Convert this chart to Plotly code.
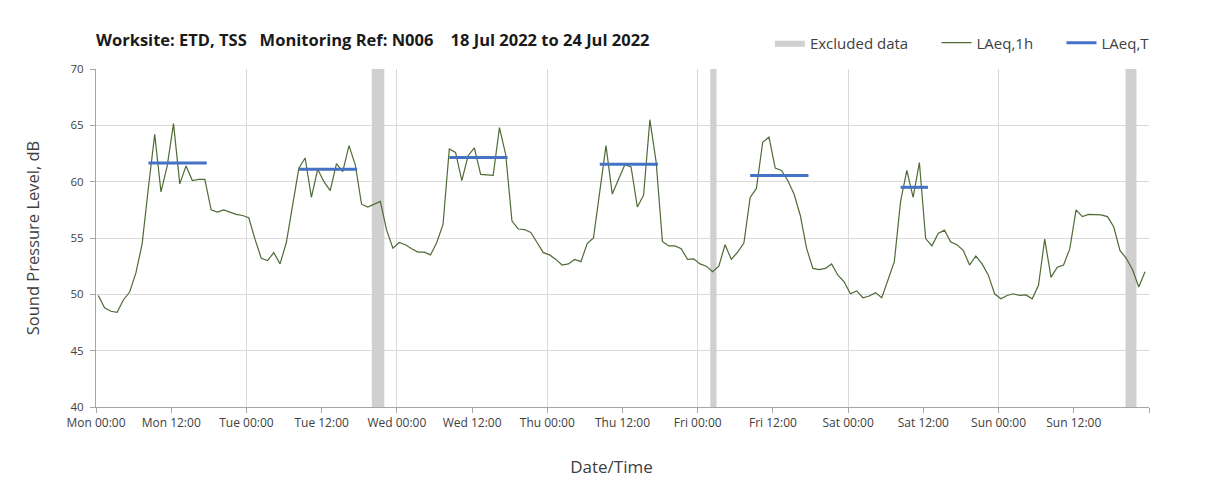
import plotly.graph_objects as go
import pandas as pd

# ---------------- data ----------------
first_reading = "2022-07-18 00:22"
laeq_1h = [
    49.9, 48.8, 48.5, 48.4, 49.5, 50.2, 51.9, 54.5, 59.5, 64.2,
    59.1, 61.4, 65.15, 59.8, 61.4, 60.1, 60.2, 60.2, 57.5, 57.3,
    57.5, 57.3, 57.1, 57.0, 56.8, 54.9, 53.2, 53.0, 53.7, 52.7,
    54.6, 57.9, 61.2, 62.1, 58.6, 61.1, 60.0, 59.2, 61.6, 60.9,
    63.2, 61.5, 58.0, 57.75, 58.0, 58.25, 55.7, 54.1, 54.6, 54.4,
    54.05, 53.75, 53.75, 53.5, 54.6, 56.2, 62.9, 62.6, 60.1, 62.3,
    63.0, 60.65, 60.6, 60.55, 64.8, 62.4, 56.5, 55.8, 55.75, 55.5,
    54.6, 53.7, 53.5, 53.1, 52.6, 52.7, 53.1, 52.9, 54.5, 55.0,
    59.1, 63.2, 58.9, 60.2, 61.5, 61.3, 57.75, 58.8, 65.5, 61.75,
    54.7, 54.3, 54.3, 54.05, 53.1, 53.15, 52.7, 52.5, 52.0, 52.5,
    54.4, 53.1, 53.75, 54.55, 58.6, 59.4, 63.5, 63.95, 61.2, 61.0,
    60.1, 58.9, 57.0, 54.1, 52.3, 52.2, 52.3, 52.7, 51.7, 51.1,
    50.05, 50.3, 49.7, 49.85, 50.15, 49.7, 51.25, 52.9, 58.25, 61.0,
    58.6, 61.7, 54.95, 54.3, 55.4, 55.7, 54.65, 54.4, 53.9, 52.6,
    53.4, 52.7, 51.7, 50.05, 49.6, 49.9, 50.05, 49.9, 49.95, 49.6,
    50.8, 54.9, 51.5, 52.4, 52.6, 54.05, 57.5, 56.9, 57.1, 57.05,
    57.05, 56.9, 56.0, 53.9, 53.2, 52.2, 50.65, 52.0,
]

laeqT_start = ["2022-07-18 08:22", "2022-07-19 08:22", "2022-07-20 08:22",
               "2022-07-21 08:22", "2022-07-22 08:22", "2022-07-23 08:22"]
laeqT_end = ["2022-07-18 17:40", "2022-07-19 17:40", "2022-07-20 17:40",
             "2022-07-21 17:40", "2022-07-22 17:40", "2022-07-23 12:45"]
laeqT_value = [61.65, 61.1, 62.15, 61.55, 60.55, 59.5]

excl_start = ["2022-07-19 20:00", "2022-07-22 02:00", "2022-07-24 20:15"]
excl_end = ["2022-07-19 22:00", "2022-07-22 03:00", "2022-07-24 22:00"]

tick_labels = ["Mon 00:00", "Mon 12:00", "Tue 00:00", "Tue 12:00", "Wed 00:00",
               "Wed 12:00", "Thu 00:00", "Thu 12:00", "Fri 00:00", "Fri 12:00",
               "Sat 00:00", "Sat 12:00", "Sun 00:00", "Sun 12:00", ""]
axis_start = "2022-07-18 00:00"
Y_MIN, Y_MAX = 40, 70

# ---------------- build ----------------
times = pd.date_range(first_reading, periods=len(laeq_1h), freq="h")
tick_times = pd.date_range(axis_start, periods=len(tick_labels), freq="12h")

ex_x, ex_y = [], []
for s, e in zip(excl_start, excl_end):
    ex_x += [s, e, e, s, s, None]
    ex_y += [Y_MIN, Y_MIN, Y_MAX, Y_MAX, Y_MIN, None]

lt_x, lt_y = [], []
for s, e, v in zip(laeqT_start, laeqT_end, laeqT_value):
    lt_x += [s, e, None]
    lt_y += [v, v, None]

FONT = "Open Sans"
NB = "\u00a0"
W, H = 1200, 494
fig = go.Figure()
fig.add_trace(go.Scatter(
    x=ex_x, y=ex_y, mode="lines", fill="toself", fillcolor="#d0d0d0",
    line=dict(width=0, color="#d0d0d0"), name="Excluded data" + NB * 6,
    hoverinfo="skip"))
fig.add_trace(go.Scatter(
    x=times, y=laeq_1h, mode="lines", name="LAeq,1h" + NB * 6,
    line=dict(color="#4f6b35", width=1.2), xaxis="x2"))
fig.add_trace(go.Scatter(
    x=lt_x, y=lt_y, mode="lines", name="LAeq,T",
    line=dict(color="#4472c4", width=3), xaxis="x2"))

fig.update_layout(
    width=W, height=H, autosize=False,
    margin=dict(l=88, r=59, t=61, b=95),
    paper_bgcolor="white", plot_bgcolor="white",
    font=dict(family=FONT, color="#404040"),
    title=dict(
        text="<b>Worksite: ETD, TSS" + NB * 3 + "Monitoring Ref: N006" + NB * 4
             + "18 Jul 2022 to 24 Jul 2022</b>",
        x=88 / W, xanchor="left", xref="container",
        y=1 - 32 / H, yanchor="middle", yref="container",
        font=dict(family=FONT, size=16.5, color="#1a1a1a")),
    legend=dict(
        orientation="h", x=0.640, xanchor="left", y=1.077, yanchor="middle",
        font=dict(family=FONT, size=15, color="#404040"),
        bgcolor="rgba(0,0,0,0)", traceorder="normal"),
    showlegend=True,
    xaxis=dict(
        type="date", range=[tick_times[0], tick_times[-1]],
        tickmode="array", tickvals=tick_times, ticktext=tick_labels,
        ticks="outside", ticklen=5, tickcolor="#a6a6a6",
        tickfont=dict(family=FONT, size=12, color="#404040"),
        showgrid=False, showline=True, linecolor="#a6a6a6", linewidth=1,
        zeroline=False,
        title=dict(text="Date/Time" + NB * 5 + "\u200b",
                   font=dict(family=FONT, size=17, color="#404040"),
                   standoff=30)),
    xaxis2=dict(
        type="date", overlaying="x", matches="x",
        range=[tick_times[0], tick_times[-1]],
        tick0=axis_start, dtick=86400000,
        showgrid=True, gridcolor="#d9d9d9", gridwidth=1,
        showticklabels=False, ticks="", showline=False, zeroline=False),
    yaxis=dict(
        range=[Y_MIN, Y_MAX], dtick=5, tick0=40,
        ticks="outside", ticklen=5, tickcolor="#a6a6a6",
        ticklabelstandoff=4,
        tickfont=dict(family=FONT, size=11.5, color="#404040"),
        showgrid=True, gridcolor="#d9d9d9", gridwidth=1,
        showline=True, linecolor="#a6a6a6", linewidth=1, zeroline=False,
        title=dict(text="Sound Pressure Level, dB",
                   font=dict(family=FONT, size=16.5, color="#404040"), standoff=26)),
)

fig.write_html("out.html")
